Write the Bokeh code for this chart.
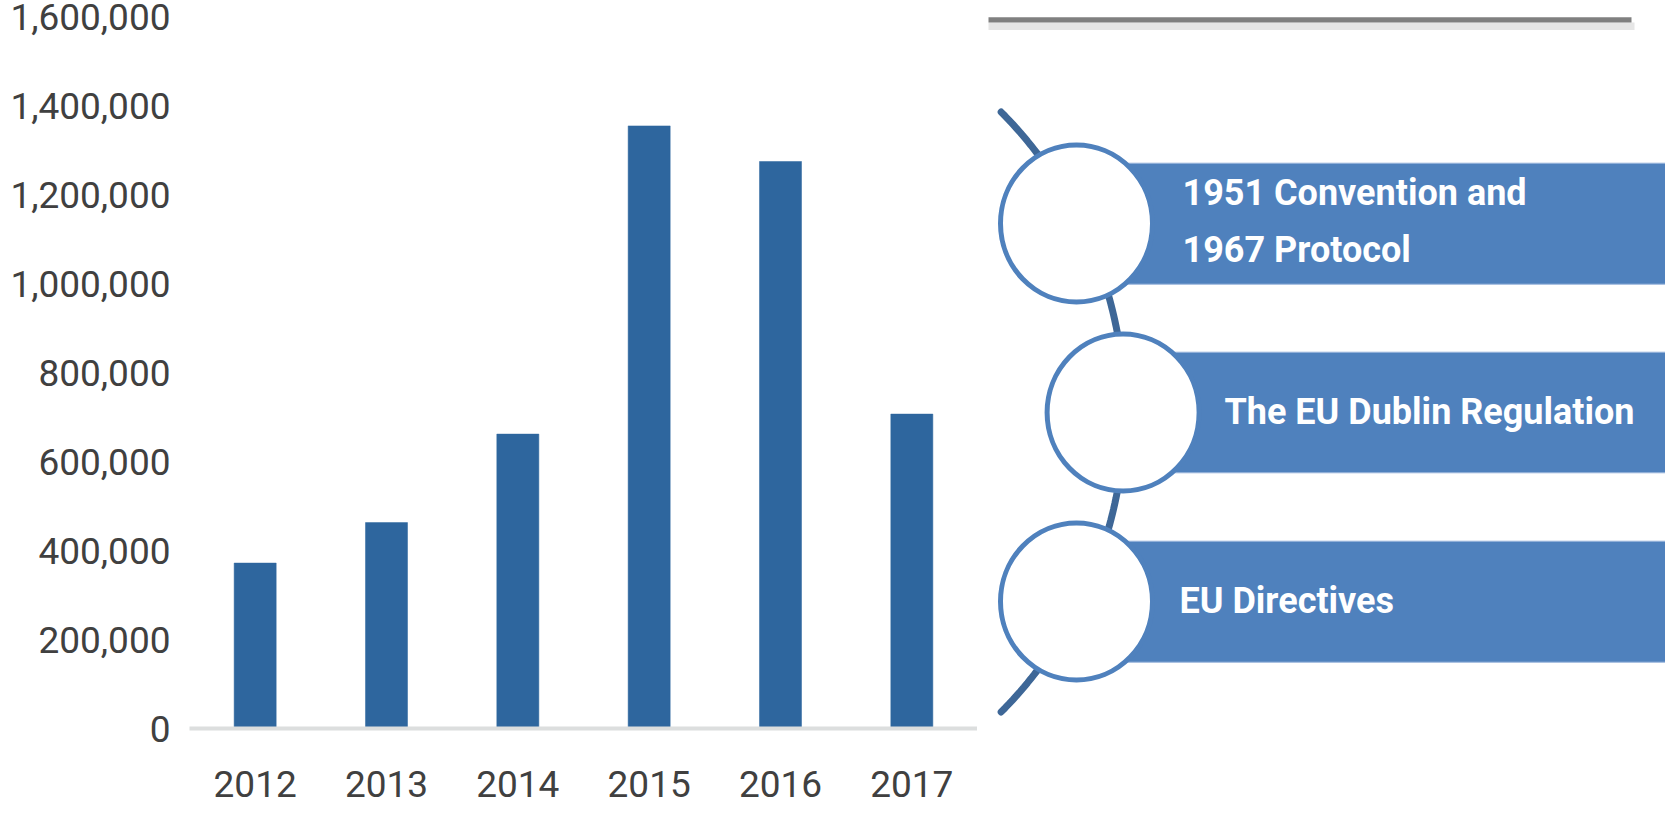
import numpy as np
from bokeh.plotting import figure
from bokeh.layouts import row
from bokeh.models import Range1d, FactorRange, FixedTicker, NumeralTickFormatter
from bokeh.core.properties import value
from bokeh.embed import file_html
from bokeh.resources import INLINE

# ---- data ----
years = ["2012", "2013", "2014", "2015", "2016", "2017"]
applicants = [372000, 463000, 662000, 1355000, 1275000, 707000]
y_ticks = [0, 200000, 400000, 600000, 800000, 1000000, 1200000, 1400000, 1600000]
diagram_lines = [["1951 Convention and", "1967 Protocol"],
                 ["The EU Dublin Regulation"],
                 ["EU Directives"]]

AX_FONT = "Roboto"
TXT_FONT = "Roboto"

# ---- bar chart ----
p1 = figure(x_range=FactorRange(factors=years), y_range=Range1d(0, 1637000),
            width=977, height=814, output_backend="svg", toolbar_location=None,
            min_border_left=189, min_border_right=0, min_border_top=0,
            min_border_bottom=86, background_fill_color="white")
p1.vbar(x=years, top=applicants, width=0.32, fill_color="#2e669e",
        line_color="#2e669e", line_width=0.5)
p1.xgrid.visible = False
p1.ygrid.visible = False
p1.outline_line_color = None

ya = p1.yaxis[0]
ya.ticker = FixedTicker(ticks=y_ticks)
ya.formatter = NumeralTickFormatter(format="0,0")
ya.axis_line_color = None
ya.major_tick_line_color = None
ya.minor_tick_line_color = None
ya.major_tick_in = 0
ya.major_tick_out = 0
ya.major_label_standoff = 19
ya.major_label_text_font = AX_FONT
ya.major_label_text_font_size = "37px"
ya.major_label_text_color = "#404040"

xa = p1.xaxis[0]
xa.axis_line_color = "#dcdede"
xa.axis_line_width = 4
xa.major_tick_line_color = None
xa.minor_tick_line_color = None
xa.major_label_standoff = 36
xa.major_label_text_font = AX_FONT
xa.major_label_text_font_size = "37px"
xa.major_label_text_color = "#404040"

# ---- diagram (pixel-like coordinates, y downward) ----
p2 = figure(x_range=Range1d(977, 1665), y_range=Range1d(728, 0),
            width=688, height=814, output_backend="svg", toolbar_location=None,
            min_border_left=0, min_border_right=0, min_border_top=0,
            min_border_bottom=86, x_axis_location=None, y_axis_location=None)
p2.xgrid.visible = False
p2.ygrid.visible = False
p2.outline_line_color = None

for fig in (p1, p2):
    if hasattr(fig, "frame_align"):
        fig.frame_align = False

# top rule with soft shadow
p2.quad(left=[988], right=[1634], top=[22], bottom=[29.5], fill_color="#e6e6e6", line_color=None)
p2.quad(left=[988], right=[1631], top=[16.7], bottom=[22], fill_color="#808080", line_color=None)

# connecting arc
cx, cy, r = 698.7, 411.5, 425.6
th = np.linspace(-0.782, 0.782, 120)
p2.line(cx + r * np.cos(th), cy + r * np.sin(th), line_width=7,
        line_color="#3e6797", line_cap="round")

circ_x = [1076, 1122.6, 1076]
circ_y = [223, 412, 601]
band_top = [162.7, 351.7, 540.7]
band_bot = [283.7, 472.3, 661.7]

p2.quad(left=circ_x, right=[1670] * 3, top=band_top, bottom=band_bot,
        fill_color="#4f81bd", line_color="#9ab6dc", line_width=1)
p2.ellipse(x=circ_x, y=circ_y, width=152, height=157, fill_color="white",
           line_color="#4f81bd", line_width=5)

tx, ty, tt = [], [], []
text_x = [1182, 1224, 1179]
text_y = [[192, 249.5], [411], [600]]
for i, lines in enumerate(diagram_lines):
    for j, s in enumerate(lines):
        tx.append(text_x[i]); ty.append(text_y[i][j]); tt.append(s)
p2.text(x=tx, y=ty, text=tt, text_font=value(TXT_FONT), text_font_style="bold",
        text_font_size="36px", text_color="white", text_baseline="middle",
        text_align="left")

layout = row(p1, p2)
open("out.html", "w").write(file_html(layout, INLINE))
